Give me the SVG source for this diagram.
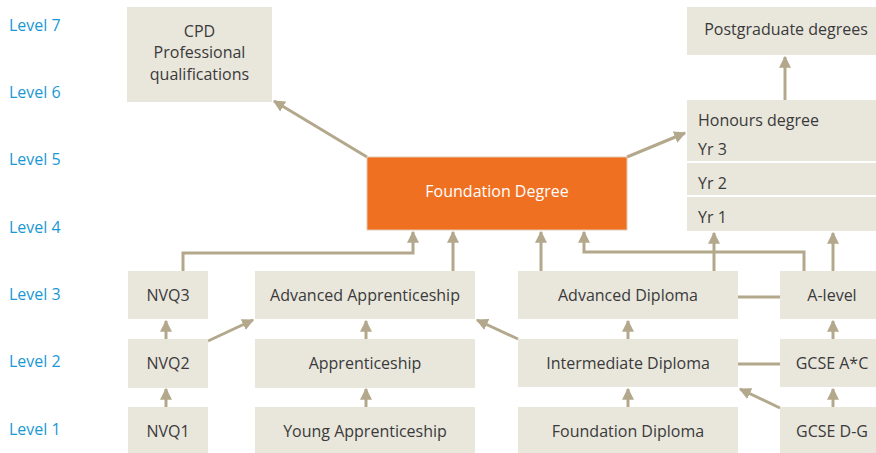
<svg xmlns="http://www.w3.org/2000/svg" width="876" height="453" viewBox="0 0 876 453">
<defs>
<marker id="ah" viewBox="0 0 10 10" refX="9" refY="5" markerWidth="4" markerHeight="4" markerUnits="strokeWidth" orient="auto">
<path d="M0,0 L10,5 L0,10 z" fill="#b3a88c"/>
</marker>
</defs>
<style>
.box{fill:#e9e6dc}
.t{font-family:"Open Sans","Noto Sans","Liberation Sans",sans-serif;font-size:16px;fill:#3a3a3a}
.c{text-anchor:middle}
.lv{font-family:"Open Sans","Noto Sans","Liberation Sans",sans-serif;font-size:16px;fill:#1a98d5}
.ln{fill:none;stroke:#b3a88c;stroke-width:3}
.ar{marker-end:url(#ah)}
</style>
<rect width="876" height="453" fill="#ffffff"/>
<g id="levels">
<text class="lv" x="9" y="31">Level 7</text>
<text class="lv" x="9" y="98">Level 6</text>
<text class="lv" x="9" y="165">Level 5</text>
<text class="lv" x="9" y="233">Level 4</text>
<text class="lv" x="9" y="300">Level 3</text>
<text class="lv" x="9" y="367">Level 2</text>
<text class="lv" x="9" y="435">Level 1</text>
</g>
<g id="connectors">
<polyline class="ln ar" points="183,271 183,253 413,253 413,232"/>
<line class="ln ar" x1="453" y1="271" x2="453" y2="232"/>
<line class="ln ar" x1="541" y1="271" x2="541" y2="232"/>
<polyline class="ln ar" points="804,271 804,252 584,252 584,232"/>
<line class="ln ar" x1="714" y1="271" x2="714" y2="233"/>
<line class="ln ar" x1="833" y1="271" x2="833" y2="233"/>
<line class="ln" x1="738" y1="297" x2="780" y2="297"/>
<line class="ln" x1="738" y1="364" x2="780" y2="364"/>
<line class="ln ar" x1="628" y1="407" x2="628" y2="389"/>
<line class="ln ar" x1="628" y1="339" x2="628" y2="321"/>
<line class="ln ar" x1="780" y1="408" x2="740" y2="389"/>
<line class="ln ar" x1="833" y1="407" x2="833" y2="389"/>
<line class="ln ar" x1="833" y1="339" x2="833" y2="321"/>
<line class="ln ar" x1="518" y1="339" x2="477" y2="320"/>
<line class="ln ar" x1="208" y1="341" x2="253" y2="320"/>
<line class="ln ar" x1="166" y1="407" x2="166" y2="389"/>
<line class="ln ar" x1="166" y1="339" x2="166" y2="321"/>
<line class="ln ar" x1="366" y1="407" x2="366" y2="389"/>
<line class="ln ar" x1="366" y1="339" x2="366" y2="321"/>
<line class="ln ar" x1="367" y1="157" x2="274" y2="101"/>
<line class="ln ar" x1="627" y1="157" x2="685" y2="133"/>
<line class="ln ar" x1="785" y1="100" x2="785" y2="57"/>
</g>
<g id="cpd">
<rect class="box" x="127" y="7" width="145" height="95"/>
<text class="t c" x="199.5" y="37">CPD</text>
<text class="t c" x="199.5" y="58">Professional</text>
<text class="t c" x="199.5" y="80">qualifications</text>
</g>
<g id="postgrad">
<rect class="box" x="687" y="7" width="189" height="48"/>
<text class="t c" x="786" y="35">Postgraduate degrees</text>
</g>
<g id="honours">
<rect class="box" x="687" y="100" width="189" height="131"/>
<line x1="687" y1="162" x2="876" y2="162" stroke="#ffffff" stroke-width="2"/>
<line x1="687" y1="196" x2="876" y2="196" stroke="#ffffff" stroke-width="2"/>
<text class="t" x="698" y="126">Honours degree</text>
<text class="t" x="698" y="155">Yr 3</text>
<text class="t" x="698" y="189">Yr 2</text>
<text class="t" x="698" y="223">Yr 1</text>
</g>
<g id="foundation-degree">
<rect x="367" y="157" width="260" height="73" fill="#f07022" stroke="#e0c9b0" stroke-width="1"/>
<text class="t c" x="497" y="197" style="fill:#ffffff">Foundation Degree</text>
</g>
<g id="nvq3">
<rect class="box" x="128" y="271" width="80" height="48"/>
<text class="t c" x="168" y="301">NVQ3</text>
</g>
<g id="adv-app">
<rect class="box" x="255" y="271" width="220" height="48"/>
<text class="t c" x="365" y="301">Advanced Apprenticeship</text>
</g>
<g id="adv-dip">
<rect class="box" x="518" y="271" width="220" height="48"/>
<text class="t c" x="628" y="301">Advanced Diploma</text>
</g>
<g id="alevel">
<rect class="box" x="780" y="271" width="96" height="48"/>
<text class="t c" x="832" y="301">A-level</text>
</g>
<g id="nvq2">
<rect class="box" x="128" y="339" width="80" height="49"/>
<text class="t c" x="168" y="369">NVQ2</text>
</g>
<g id="app">
<rect class="box" x="255" y="339" width="220" height="49"/>
<text class="t c" x="365" y="369">Apprenticeship</text>
</g>
<g id="int-dip">
<rect class="box" x="518" y="339" width="220" height="48"/>
<text class="t c" x="628" y="369">Intermediate Diploma</text>
</g>
<g id="gcse-ac">
<rect class="box" x="780" y="339" width="96" height="48"/>
<text class="t c" x="832" y="369">GCSE A*C</text>
</g>
<g id="nvq1">
<rect class="box" x="128" y="407" width="80" height="46"/>
<text class="t c" x="168" y="437">NVQ1</text>
</g>
<g id="young-app">
<rect class="box" x="255" y="407" width="220" height="46"/>
<text class="t c" x="365" y="437">Young Apprenticeship</text>
</g>
<g id="found-dip">
<rect class="box" x="518" y="407" width="220" height="46"/>
<text class="t c" x="628" y="437">Foundation Diploma</text>
</g>
<g id="gcse-dg">
<rect class="box" x="780" y="407" width="96" height="46"/>
<text class="t c" x="832" y="437">GCSE D-G</text>
</g>
</svg>
